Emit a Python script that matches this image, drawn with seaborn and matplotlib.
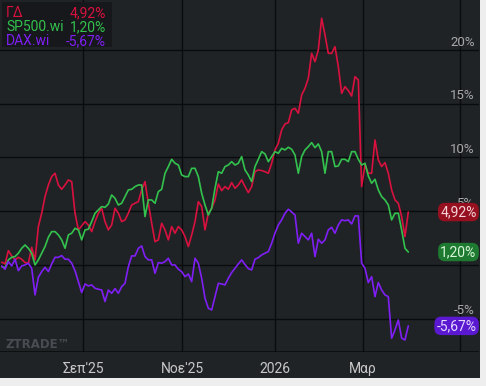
import numpy as np
import pandas as pd
import matplotlib.pyplot as plt
import matplotlib.transforms as mtransforms
from matplotlib.patches import Rectangle
import seaborn as sns

# series, % change since start
names = ["ΓΔ", "SP500.wi", "DAX.wi"]
last_labels = ["4,92%", "1,20%", "-5,67%"]
line_colors = ["#d8113f", "#33c24d", "#7f1ff5"]
tag_colors = ["#961020", "#1d7a30", "#5a18d0"]
tag_text = ["#f6d4d8", "#d8f5d8", "#e4d8ff"]

gd = [0.25, 0.1, 1.33, 0.84, 0.47, 0.71, 0.53, 0.22, 0.16, 1.64, 0.47, 3.57, 4.81, 6.36, 7.44, 8.22,
      8.53, 7.44, 7.04, 7.44, 7.91, 7.75, 4.81, 3.26, 3.63, 4.03, 3.72, 3.10, 4.03, 4.81, 5.27, 4.03,
      3.26, 3.72, 5.27, 4.81, 4.03, 4.19, 4.81, 5.58, 5.74, 5.89, 6.98, 7.75, 5.74, 3.88, 2.17, 2.33,
      3.88, 3.26, 2.33, 3.57, 2.95, 3.57, 3.26, 2.64, 1.71, 2.79, 4.03, 5.89, 5.43, 3.26, 4.81, 5.27,
      6.05, 7.53, 6.91, 7.29, 7.04, 7.66, 7.13, 7.44, 7.91, 7.29, 6.73, 7.29, 8.68, 8.84, 8.78, 8.68,
      8.53, 9.46, 10.70, 11.32, 12.56, 13.12, 13.24, 14.42, 14.57, 14.11, 15.81, 16.43, 17.36, 19.69,
      18.91, 20.0, 22.95, 21.40, 19.69, 19.69, 20.31, 18.45, 15.97, 16.59, 16.22, 15.72, 17.52, 17.21,
      7.29, 9.30, 8.53, 8.53, 11.63, 9.77, 9.15, 9.52, 8.53, 6.98, 6.05, 5.74, 4.50, 2.64, 4.92]

sp500 = [-0.16, -0.25, 0.47, 0.71, 0.78, 1.09, 1.55, 1.86, 1.55, 1.09, 0.0, 0.47, 1.09, 1.71, 2.57, 3.10,
         3.10, 2.79, 2.33, 1.55, 2.79, 2.95, 3.41, 3.26, 2.33, 3.26, 3.32, 4.03, 4.81, 5.12, 5.43, 5.36,
         5.67, 6.51, 6.20, 5.58, 5.74, 6.36, 6.98, 7.04, 7.29, 7.44, 7.44, 4.50, 6.05, 6.05, 5.74, 6.82,
         7.04, 8.53, 9.15, 9.83, 9.46, 9.30, 8.37, 8.22, 8.22, 8.99, 8.99, 8.22, 6.67, 5.58, 4.65, 5.27,
         7.13, 8.68, 8.53, 9.15, 9.30, 9.61, 9.30, 9.46, 10.08, 8.84, 8.37, 7.75, 9.15, 9.83, 10.54, 10.33,
         9.61, 10.08, 10.54, 10.39, 10.85, 10.70, 10.95, 10.76, 10.23, 8.53, 10.08, 10.70, 11.01, 11.38,
         10.91, 11.26, 10.54, 8.53, 10.54, 10.54, 9.15, 9.21, 9.83, 9.83, 9.61, 10.54, 10.54, 9.83,
         9.30, 9.46, 8.28, 7.60, 7.97, 6.98, 6.36, 6.05, 5.58, 4.19, 4.81, 4.81, 3.26, 1.55, 1.20]

dax = [-0.09, -0.40, 0.31, -0.09, 0.53, -0.53, -0.09, 0.0, 0.16, -0.31, -2.79, -1.15, -0.62, -0.22, -0.62,
       0.09, 0.71, 0.71, 0.87, 0.53, 0.53, 0.16, -0.53, -1.55, -2.57, -1.77, -1.95, -1.86, -2.17, -2.26,
       -2.33, -3.41, -2.33, -2.64, -2.20, -2.64, -2.02, -1.71, -0.16, 0.84, 0.84, 1.55, 1.77, 0.78, 0.47,
       0.47, -0.78, 0.22, 0.16, 0.31, 0.62, 0.0, 0.0, -0.40, -0.62, -1.09, -0.84, -1.55, 0.62, 0.16,
       -1.24, -3.10, -4.03, -4.19, -2.95, -1.71, -1.77, -1.86, -1.24, -0.71, -0.31, 0.09, 0.47, 0.03,
       -0.34, -0.47, 0.53, 0.68, 0.93, 1.09, 1.24, 2.02, 2.95, 3.72, 4.19, 4.81, 5.18, 4.93, 4.65, 2.02,
       2.95, 2.64, 2.33, 2.95, 0.78, 2.39, 2.02, 2.33, 3.26, 3.50, 2.95, 3.72, 4.19, 4.12, 4.19, 3.81,
       4.56, 4.56, 0.16, -0.31, -1.64, -1.09, -2.95, -1.64, -2.33, -2.79, -2.95, -6.82, -6.05, -5.12,
       -6.82, -6.98, -5.67]

start_date = "2025-07-11"
end_date = "2026-03-30"
holidays = ["2025-09-01", "2025-11-27", "2025-12-25", "2026-01-01", "2026-01-19", "2026-02-16", "2026-04-03"]
month_starts = ["2025-09-01", "2025-11-01", "2026-01-01", "2026-03-01", "2026-05-01"]
month_labels = ["Σεπ'25", "Νοε'25", "2026", "Μαρ", ""]
y_ticks = [20, 15, 10, 5, 0, -5]

# trading-day axis
days = pd.bdate_range(start_date, "2026-06-30", freq="C", holidays=holidays)
end_idx = days.searchsorted(pd.Timestamp(end_date))
pos = np.linspace(0, end_idx, len(gd))
tick_pos = [days.searchsorted(pd.Timestamp(m)) for m in month_starts]

df = pd.DataFrame({
    "pos": np.tile(pos, 3),
    "value": np.concatenate([gd, sp500, dax]),
    "series": np.repeat(names, len(gd)),
})

sns.set_theme(style="dark")
plt.rcParams["font.family"] = ["Roboto", "DejaVu Sans"]

W, H = 486, 386
fig = plt.figure(figsize=(W / 100, H / 100), dpi=100)
fig.patch.set_facecolor("#eeeeee")
fig.patches.append(Rectangle((0, 8 / H), 480 / W, 1 - 8 / H, transform=fig.transFigure,
                             facecolor="#202326", edgecolor="none", zorder=-10))

ax = fig.add_axes([0, (H - 352) / H, 479 / W, 352 / H])
ax.set_facecolor("#202326")

sns.lineplot(data=df, x="pos", y="value", hue="series", hue_order=names,
             palette=line_colors, legend=False, linewidth=1.2, ax=ax, zorder=3)

ppd = (408.3 - 1.7) / end_idx
ax.set_xlim(-1.7 / ppd, (479 - 1.7) / ppd)
ax.set_ylim(-8.1, 24.65)

ax.set_yticks(y_ticks)
ax.set_xticks(tick_pos)
ax.set_xticklabels(month_labels)
ax.tick_params(axis="x", length=0, pad=7, labelsize=10, labelcolor="#c8c8c8")
ax.tick_params(axis="y", length=0, labelleft=False)
ax.grid(True, color="#0a0b0c", linewidth=1.0)
ax.set_xlabel("")
ax.set_ylabel("")
for s in ax.spines.values():
    s.set_visible(False)
ax.axhline(-8.1, color="#0a0b0c", linewidth=1.2)

# right-side percent labels
yx = mtransforms.blended_transform_factory(ax.transAxes, ax.transData)
for v in y_ticks:
    if v == 0:
        continue
    ax.text(0.991, v + 0.12, f"{v}%", transform=yx, ha="right", va="bottom",
            fontsize=9.5, color="#a8a8a8", zorder=4)

# last-value tags
for val, lab, fc, tc in zip([gd[-1], sp500[-1], dax[-1]], last_labels, tag_colors, tag_text):
    ax.text(0.995, val, lab, transform=yx, ha="right", va="center", fontsize=10, color=tc, zorder=6,
            bbox=dict(boxstyle="round,pad=0.16,rounding_size=0.5", fc=fc, ec="none"))

# legend box top-left
ax.add_patch(Rectangle((2 / 479, 1 - 47 / 352), 110 / 479, 45 / 352, transform=ax.transAxes,
                       facecolor="#16181b", edgecolor="none", zorder=5))
for i, (n, lab, c) in enumerate(zip(names, last_labels, line_colors)):
    yy = 1 - (13 + 14 * i) / 352
    ax.text(6 / 479, yy, n, transform=ax.transAxes, ha="left", va="center",
            fontsize=10, color=c, zorder=6)
    ax.text(106 / 479, yy, lab, transform=ax.transAxes, ha="right", va="center",
            fontsize=10, color=c, zorder=6)

# watermark
ax.text(5 / 479, 8 / 352, "ZTRADE™", transform=ax.transAxes, ha="left", va="center",
        fontsize=8.5, fontweight="bold", family="DejaVu Sans", color="#494d52", zorder=2)

fig.savefig("out.png", dpi=100, facecolor=fig.get_facecolor())
